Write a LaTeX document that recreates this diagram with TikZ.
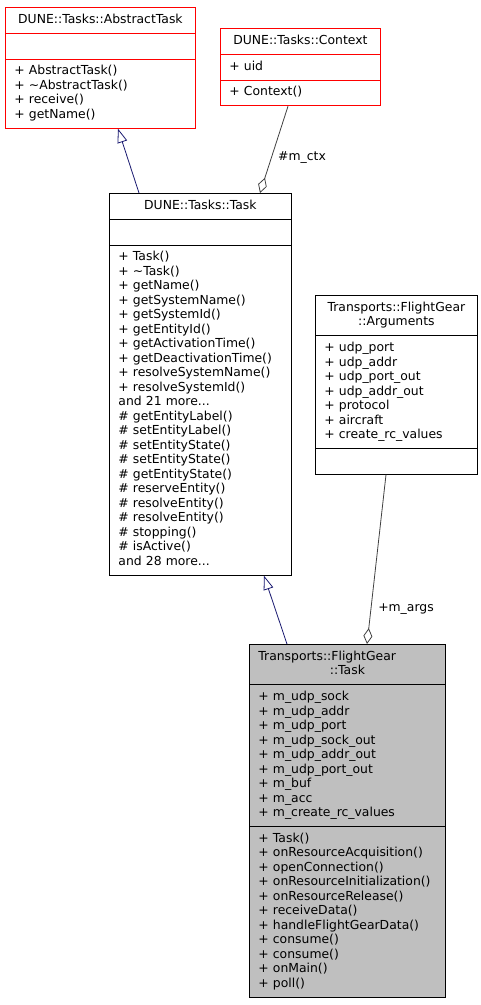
\documentclass[tikz,border=0pt]{standalone}
\usepackage{fontspec}
\setmainfont{DejaVu Sans}
\usetikzlibrary{shapes.multipart,arrows.meta,positioning}
\definecolor{EdgeBlue}{RGB}{25,25,112}
\definecolor{EdgeGray}{RGB}{64,64,64}
\definecolor{FillGray}{RGB}{191,191,191}
\newcommand{\clsname}[1]{\makebox[\hsize][c]{#1}}

\begin{document}
\begin{tikzpicture}[x=1pt, y=-1pt,
  cls/.style={
    rectangle split, rectangle split parts=3, draw=black, fill=white,
    line width=0.8pt, anchor=north west, inner xsep=9pt, inner ysep=5.25pt,
    align=left, font=\fontsize{12.4}{14.5}\selectfont
  },
  redcls/.style={cls, draw=red},
  curcls/.style={cls, fill=FillGray},
  inh/.style={{Triangle[open,length=14pt,width=10pt]}-, EdgeBlue, line width=0.8pt},
  agg/.style={-{Diamond[open,length=16pt,width=9pt]}, EdgeGray, line width=0.8pt},
  lbl/.style={font=\fontsize{12.4}{14.5}\selectfont, inner sep=0pt}
]
\useasboundingbox (0,0) rectangle (481,1005);

% ---- Classes ----
\node[redcls, text width=172pt] (abstract) at (5,7)
  {\strut\clsname{DUNE::Tasks::AbstractTask}\strut
   \nodepart{second}\strut
   \nodepart{third}\strut + AbstractTask()\\
   + \textasciitilde AbstractTask()\\
   + receive()\\
   + getName()\strut};

\node[redcls, text width=142pt] (context) at (220,28)
  {\strut\clsname{DUNE::Tasks::Context}\strut
   \nodepart{second}\strut + uid\strut
   \nodepart{third}\strut + Context()\strut};

\node[cls, text width=164pt] (task) at (109,193)
  {\strut\clsname{DUNE::Tasks::Task}\strut
   \nodepart{second}\strut
   \nodepart{third}\strut + Task()\\
   + \textasciitilde Task()\\
   + getName()\\
   + getSystemName()\\
   + getSystemId()\\
   + getEntityId()\\
   + getActivationTime()\\
   + getDeactivationTime()\\
   + resolveSystemName()\\
   + resolveSystemId()\\
   and 21 more...\\
   \# getEntityLabel()\\
   \# setEntityLabel()\\
   \# setEntityState()\\
   \# setEntityState()\\
   \# getEntityState()\\
   \# reserveEntity()\\
   \# resolveEntity()\\
   \# resolveEntity()\\
   \# stopping()\\
   \# isActive()\\
   and 28 more...\strut};

\node[cls, text width=144pt] (args) at (315,295)
  {\strut\clsname{Transports::FlightGear}\\
   \clsname{::Arguments}\strut
   \nodepart{second}\strut + udp\_port\\
   + udp\_addr\\
   + udp\_port\_out\\
   + udp\_addr\_out\\
   + protocol\\
   + aircraft\\
   + create\_rc\_values\strut
   \nodepart{third}\strut};

\node[curcls, text width=178pt] (fgtask) at (249,644)
  {\strut Transports::FlightGear\\
   \clsname{::Task}\strut
   \nodepart{second}\strut + m\_udp\_sock\\
   + m\_udp\_addr\\
   + m\_udp\_port\\
   + m\_udp\_sock\_out\\
   + m\_udp\_addr\_out\\
   + m\_udp\_port\_out\\
   + m\_buf\\
   + m\_acc\\
   + m\_create\_rc\_values\strut
   \nodepart{third}\strut + Task()\\
   + onResourceAcquisition()\\
   + openConnection()\\
   + onResourceInitialization()\\
   + onResourceRelease()\\
   + receiveData()\\
   + handleFlightGearData()\\
   + consume()\\
   + consume()\\
   + onMain()\\
   + poll()\strut};

% ---- Relations ----
\draw[inh] ([xshift=113pt]abstract.south west) -- ([xshift=30pt]task.north west);
\draw[agg] ([xshift=68pt]context.south west) -- ([xshift=151pt]task.north west);
\node[lbl] (ctxlbl) at (302,158) {\#m\_ctx};

\draw[inh] ([xshift=155pt]task.south west) -- ([xshift=38pt]fgtask.north west);
\draw[agg] ([xshift=71pt]args.south west) -- ([xshift=118pt]fgtask.north west);
\node[lbl] (argslbl) at (406,609) {+m\_args};

\end{tikzpicture}
\end{document}
